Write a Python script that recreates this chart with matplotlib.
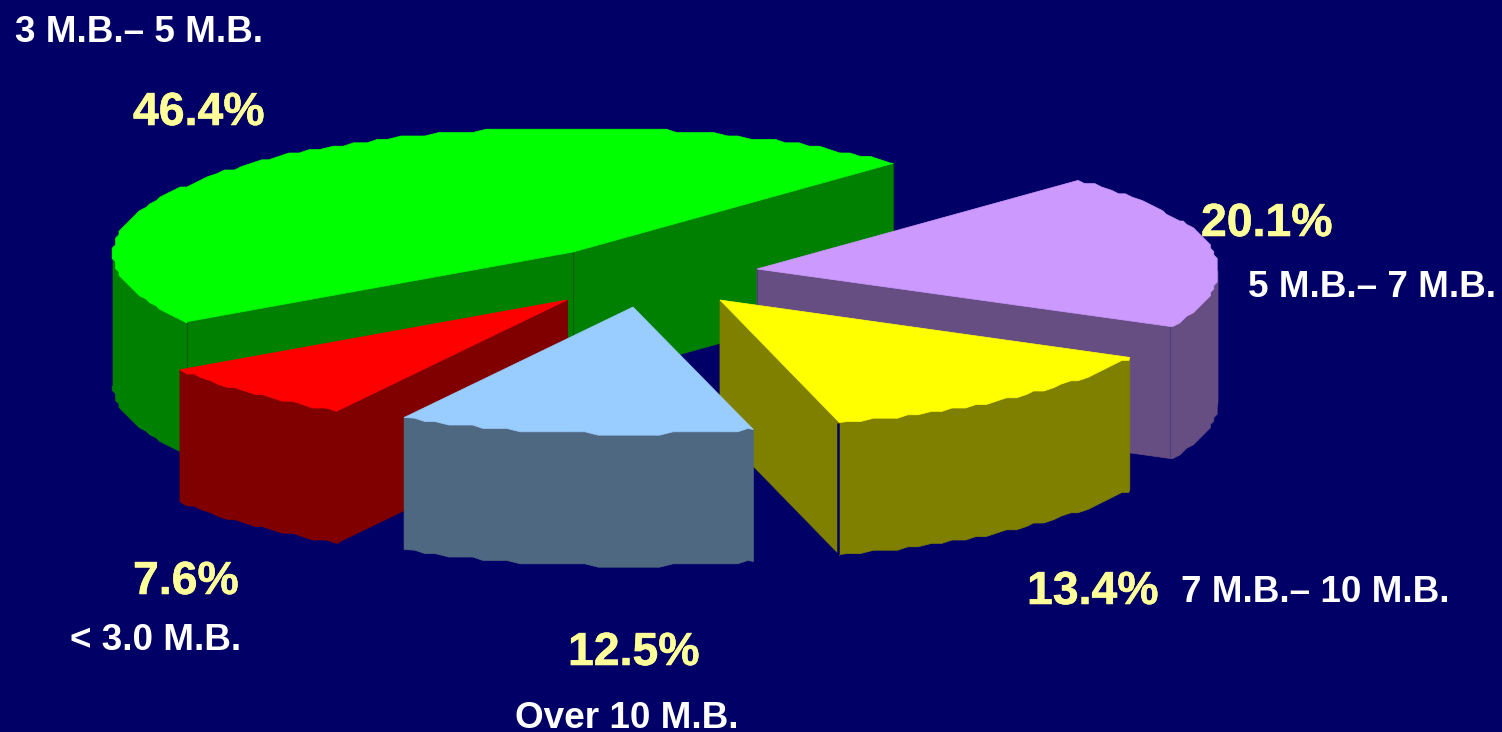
import numpy as np
import matplotlib
matplotlib.use('Agg')
import matplotlib.pyplot as plt
from matplotlib.patches import Polygon
import matplotlib.patheffects as pe

# Data
ranges = ['3 M.B.\u2013 5 M.B.', '< 3.0 M.B.', 'Over 10 M.B.', '7 M.B.\u2013 10 M.B.', '5 M.B.\u2013 7 M.B.']
shares = [46.4, 7.6, 12.5, 13.4, 20.1]
top_colors = ['#00FF00', '#FF0000', '#99CCFF', '#FFFF00', '#CC99FF']
side_colors = ['#008000', '#800000', '#4F6882', '#808000', '#674E82']
edge_colors = ['#006000', '#800000', '#4F6882', '#808000', '#4F3F80']

# Pixel layout of the exploded slices
apex_x = [573, 567, 633, 720, 757]
apex_y = [252, 300, 307, 300, 269]
rim_dx = [0, -1, -1, -2, 1]
rim_dy = 1.5
pct_pos = [(133, 125), (133, 594), (568, 665), (1027, 604), (1201, 236)]
range_pos = [(15, 42), (70, 650), (515, 728), (1181, 602), (1248, 297)]
draw_order = [0, 4, 1, 3, 2]

RX, RY = 460, 125.5
DEPTH = 132
START = 45.9
STEP = 3.4
ANGLE_STEP = 1.6

W, H = 1502, 732
BG = '#000066'

plt.rcParams['font.family'] = ['Liberation Sans', 'DejaVu Sans']
fig = plt.figure(figsize=(W / 100, H / 100), dpi=100, facecolor=BG)
ax = fig.add_axes([0, 0, 1, 1])
ax.set_xlim(0, W)
ax.set_ylim(H, 0)
ax.axis('off')


def rim(cx, cy, a0, a1):
    # arc of the ellipse, snapped to a coarse grid to get the stepped edge of the original
    # angles sit on a fixed grid so the wall and the top of a slice share the same outline
    grid = np.arange(np.ceil(a0 / ANGLE_STEP), np.floor(a1 / ANGLE_STEP) + 1) * ANGLE_STEP
    t = np.radians(np.r_[a0, grid[(grid > a0) & (grid < a1)], a1])
    x = cx + RX * np.cos(t)
    y = cy + rim_dy - RY * np.sin(t)
    xs = np.round(x / STEP) * STEP
    ys = np.round(y / STEP) * STEP
    xs[0], ys[0] = x[0], y[0]
    xs[-1], ys[-1] = x[-1], y[-1]
    return xs, ys


def front_ranges(a0, a1):
    # parts of the arc that face the viewer
    out = []
    for lo, hi in [(180, 360), (540, 720)]:
        s, e = max(a0, lo), min(a1, hi)
        if e > s:
            out.append((s, e))
    return out


ends = START + np.cumsum(shares) * 3.6
starts = ends - np.array(shares) * 3.6

z = 1
for i in draw_order:
    cx, cy = apex_x[i], apex_y[i]
    a0, a1 = starts[i], ends[i]
    side = side_colors[i]

    for s, e in front_ranges(a0, a1):
        xs, ys = rim(cx + rim_dx[i], cy, s, e)
        pts = np.r_[np.c_[xs, ys], np.c_[xs[::-1], ys[::-1] + DEPTH]]
        ax.add_patch(Polygon(pts, closed=True, fc=side, ec=side, lw=0.5, zorder=z))

    # cut faces, only those turned towards the viewer
    for ang, visible in [(a0, np.cos(np.radians(a0)) > 0), (a1, np.cos(np.radians(a1)) < 0)]:
        if visible:
            px, py = rim(cx + rim_dx[i], cy, ang, ang + 0.01)
            pts = [(cx, cy), (px[0], py[0]), (px[0], py[0] + DEPTH), (cx, cy + DEPTH)]
            ax.add_patch(Polygon(pts, closed=True, fc=side, ec=side, lw=0.5, zorder=z + 1))
            ax.plot([px[0], px[0]], [py[0], py[0] + DEPTH], color=edge_colors[i], lw=0.8, zorder=z + 2)
            ax.plot([cx, cx], [cy, cy + DEPTH], color=edge_colors[i], lw=0.8, zorder=z + 2)

    xs, ys = rim(cx + rim_dx[i], cy, a0, a1)
    top = np.r_[[[cx, cy]], np.c_[xs, ys]]
    ax.add_patch(Polygon(top, closed=True, fc=top_colors[i], ec=top_colors[i], lw=0.5, zorder=z + 3))

    # dark slit between the cut face and the rim on the yellow slice
    if top_colors[i] == '#FFFF00':
        px, py = rim(cx + rim_dx[i], cy, a0, a0 + 0.01)
        ax.plot([px[0] - 1.5, px[0] - 1.5], [py[0], py[0] + DEPTH], color=BG, lw=1.8,
                solid_capstyle='butt', zorder=z + 3)
    z += 4

for i in range(len(shares)):
    t = ax.text(pct_pos[i][0], pct_pos[i][1], f'{shares[i]}%', color='#FFFF99', fontsize=33.4,
                fontweight='bold', va='baseline', ha='left', zorder=z)
    t.set_path_effects([pe.withStroke(linewidth=0.4, foreground='#FFFF99')])
    ax.text(range_pos[i][0], range_pos[i][1], ranges[i], color='white', fontsize=26.6,
            fontweight='bold', va='baseline', ha='left', zorder=z)

fig.savefig('out.png', dpi=100, facecolor=BG)
